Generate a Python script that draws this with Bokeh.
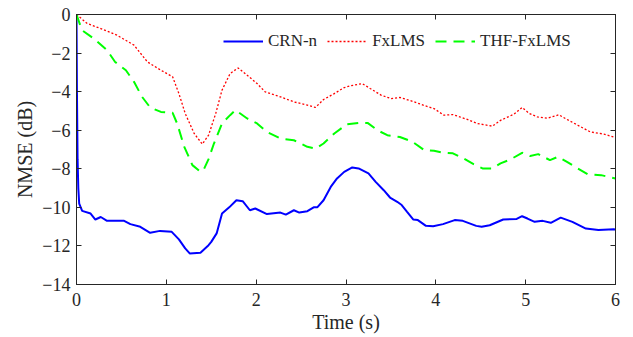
from bokeh.plotting import figure
from bokeh.models import LinearAxis, Range1d, Legend, LegendItem, FixedTicker
from bokeh.embed import file_html
from bokeh.resources import INLINE

# ---- data ----
crn_t = [0, 0.005, 0.012, 0.02, 0.03, 0.063, 0.157, 0.21, 0.27, 0.34, 0.53, 0.6, 0.71, 0.82, 0.93,
         1.06, 1.14, 1.21, 1.26, 1.38, 1.47, 1.5, 1.56, 1.62, 1.7, 1.78, 1.85, 1.93, 1.99, 2.12,
         2.27, 2.33, 2.42, 2.48, 2.57, 2.64, 2.68, 2.75, 2.83, 2.9, 2.98, 3.07, 3.14, 3.25, 3.33,
         3.42, 3.49, 3.57, 3.62, 3.68, 3.75, 3.8, 3.89, 3.97, 4.08, 4.21, 4.3, 4.45, 4.51, 4.6,
         4.75, 4.9, 4.96, 5.02, 5.1, 5.19, 5.28, 5.39, 5.52, 5.67, 5.81, 5.98, 6.0]
crn_v = [0, -4.0, -7.5, -9.0, -9.8, -10.18, -10.32, -10.63, -10.5, -10.7, -10.7, -10.87, -11.01, -11.32, -11.22,
         -11.27, -11.66, -12.13, -12.39, -12.35, -11.96, -11.79, -11.35, -10.32, -10.0, -9.63, -9.68, -10.15, -10.06, -10.35,
         -10.27, -10.38, -10.15, -10.27, -10.2, -10.0, -10.0, -9.63, -8.94, -8.5, -8.16, -7.93, -7.98, -8.24, -8.68,
         -9.11, -9.49, -9.71, -9.88, -10.23, -10.63, -10.66, -10.96, -10.98, -10.87, -10.66, -10.7, -10.96, -11.01, -10.93,
         -10.63, -10.6, -10.46, -10.58, -10.75, -10.7, -10.8, -10.53, -10.75, -11.1, -11.18, -11.14, -11.15]

fx_t = [0, 0.12, 0.27, 0.45, 0.64, 0.79, 0.94, 1.07, 1.14, 1.21, 1.31, 1.4, 1.47, 1.55, 1.62,
        1.71, 1.8, 1.9, 2.01, 2.1, 2.27, 2.42, 2.57, 2.66, 2.75, 2.87, 2.98, 3.05, 3.18, 3.27,
        3.39, 3.5, 3.6, 3.76, 3.87, 3.98, 4.09, 4.19, 4.35, 4.46, 4.63, 4.72, 4.87, 4.96, 5.04,
        5.13, 5.24, 5.37, 5.46, 5.58, 5.72, 5.87, 6.0]
fx_v = [0, -0.47, -0.73, -1.07, -1.59, -2.46, -2.89, -3.23, -4.1, -5.13, -6.17, -6.72, -6.26, -5.13, -3.92,
        -3.06, -2.77, -3.15, -3.58, -4.01, -4.27, -4.53, -4.7, -4.82, -4.41, -4.1, -3.79, -3.7, -3.58, -3.84,
        -4.18, -4.36, -4.3, -4.53, -4.72, -4.88, -5.22, -5.19, -5.44, -5.65, -5.79, -5.49, -5.17, -4.82, -5.13,
        -5.31, -5.38, -5.2, -5.44, -5.74, -6.09, -6.2, -6.38]

thf_t = [0, 0.06, 0.19, 0.34, 0.43, 0.55, 0.64, 0.73, 0.82, 0.94, 1.07, 1.12, 1.2, 1.29, 1.38,
         1.42, 1.47, 1.53, 1.62, 1.71, 1.77, 1.9, 2.01, 2.12, 2.27, 2.42, 2.57, 2.66, 2.75, 2.87,
         3.01, 3.14, 3.24, 3.35, 3.46, 3.6, 3.74, 3.87, 3.98, 4.09, 4.19, 4.31, 4.42, 4.52, 4.63,
         4.72, 4.83, 4.96, 5.05, 5.14, 5.27, 5.36, 5.46, 5.58, 5.69, 5.84, 6.0]
thf_v = [0, -0.81, -1.24, -1.85, -2.46, -2.89, -3.49, -4.27, -4.82, -5.05, -5.1, -5.65, -6.86, -7.81, -8.16,
         -8.0, -7.5, -6.69, -5.65, -5.22, -4.96, -5.39, -5.65, -6.09, -6.43, -6.52, -6.86, -6.95, -6.69, -6.17,
         -5.69, -5.62, -5.62, -6.0, -6.26, -6.35, -6.6, -7.03, -7.07, -7.17, -7.2, -7.47, -7.76, -7.98, -7.98,
         -7.72, -7.52, -7.17, -7.34, -7.24, -7.55, -7.38, -7.64, -7.98, -8.28, -8.33, -8.5]

x_ticks = [0, 1, 2, 3, 4, 5, 6]
y_ticks = [-14, -12, -10, -8, -6, -4, -2, 0]
labels = ["CRN-n", "FxLMS", "THF-FxLMS"]

FONT = "Liberation Serif"
TXT = "#262626"

p = figure(width=633, height=337, output_backend="svg", toolbar_location=None,
           x_range=Range1d(0, 6), y_range=Range1d(-14, 0),
           min_border_left=76, min_border_right=18, min_border_top=14, min_border_bottom=53)
p.grid.visible = False
p.outline_line_color = TXT
p.outline_line_width = 1
p.background_fill_color = "white"

r1 = p.line(crn_t, crn_v, line_color="#0000ff", line_width=2)
r2 = p.line(fx_t, fx_v, line_color="#ff0000", line_width=1.3, line_dash="2 2")
r3 = p.line(thf_t, thf_v, line_color="#00ff00", line_width=2, line_dash="11 7")

for ax in (p.xaxis[0], p.yaxis[0]):
    ax.major_tick_in = 5
    ax.major_tick_out = 0
    ax.minor_tick_in = 0
    ax.minor_tick_out = 0
    ax.axis_line_color = TXT
    ax.major_tick_line_color = TXT
    ax.major_label_text_font = FONT
    ax.major_label_text_font_size = "18px"
    ax.major_label_text_color = TXT
    ax.axis_label_text_font = FONT
    ax.axis_label_text_font_size = "20px"
    ax.axis_label_text_font_style = "normal"
    ax.axis_label_text_color = TXT

p.xaxis[0].ticker = FixedTicker(ticks=x_ticks)
p.yaxis[0].ticker = FixedTicker(ticks=y_ticks)
p.xaxis[0].axis_label = "Time (s)"
p.yaxis[0].axis_label = "NMSE (dB)"
p.xaxis[0].major_label_standoff = 8
p.yaxis[0].major_label_standoff = 6
p.xaxis[0].axis_label_standoff = 2
p.yaxis[0].axis_label_standoff = 3

for loc, ticks in (("above", x_ticks), ("right", y_ticks)):
    a = LinearAxis(ticker=FixedTicker(ticks=ticks), major_tick_in=5, major_tick_out=0,
                   minor_tick_in=0, minor_tick_out=0, axis_line_color=TXT,
                   major_tick_line_color=TXT, major_label_text_font_size="1px",
                   major_label_text_color=None, major_label_standoff=0)
    p.add_layout(a, loc)

legend = Legend(items=[LegendItem(label=labels[0], renderers=[r1]),
                       LegendItem(label=labels[1], renderers=[r2]),
                       LegendItem(label=labels[2], renderers=[r3])],
                orientation="horizontal", location=(147, 233),
                background_fill_alpha=0, border_line_color=None,
                label_text_font=FONT, label_text_font_size="17px", label_text_color=TXT,
                glyph_width=40, spacing=10, padding=2, margin=0, label_standoff=5)
p.add_layout(legend, "center")

open("out.html", "w").write(file_html(p, INLINE))
